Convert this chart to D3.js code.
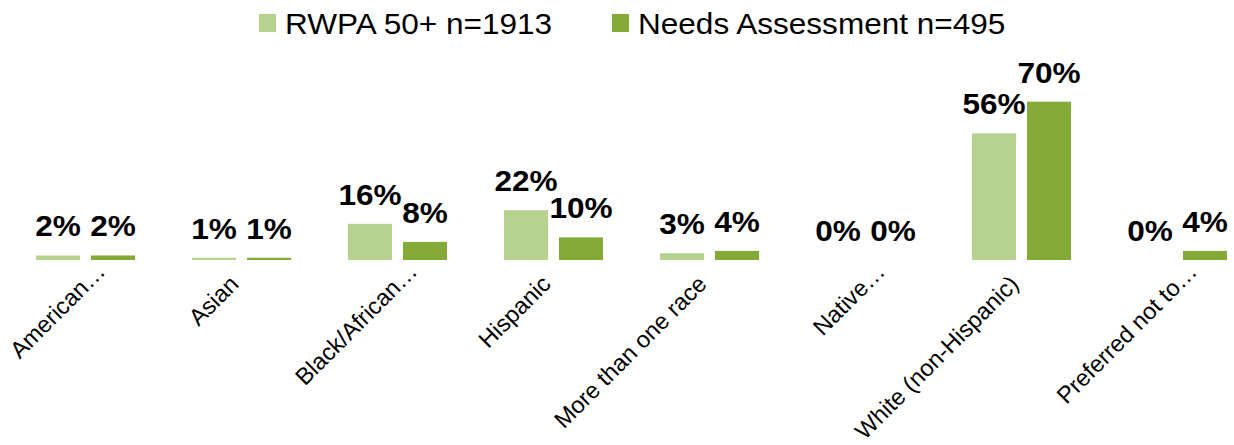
<!DOCTYPE html>
<html>
<head>
<meta charset="utf-8">
<script src="https://cdn.jsdelivr.net/npm/d3@7"></script>
<style>
  html, body { margin: 0; padding: 0; background: #ffffff; }
  svg { display: block; }
  text { font-family: Arial, "Liberation Sans", Helvetica, sans-serif; fill: #000; }
</style>
</head>
<body>
<svg id="chart" width="1234" height="445"></svg>
<script>
const categories = ["American…", "Asian", "Black/African…", "Hispanic", "More than one race", "Native…", "White (non-Hispanic)", "Preferred not to…"];
const seriesNames = ["RWPA 50+ n=1913", "Needs Assessment n=495"];
const rwpaValues = [2, 1, 16, 22, 3, 0, 56, 0];
const needsValues = [2, 1, 8, 10, 4, 0, 70, 4];
const seriesColors = ["#b5d28f", "#84ab37"];

const svg = d3.select("#chart");
const baseY = 260;

const x0 = d3.scaleBand().domain(categories).range([7.5, 1255.5]).padding(0);
const x1 = d3.scaleBand().domain(seriesNames).range([28.5, 127.5]).paddingInner(0.2);
const y = d3.scaleLinear().domain([0, 80]).range([baseY, baseY - 80 * 2.262]);

const rows = categories.map((c, i) => ({
  cat: c,
  vals: [
    { s: seriesNames[0], v: rwpaValues[i], color: seriesColors[0] },
    { s: seriesNames[1], v: needsValues[i], color: seriesColors[1] }
  ]
}));

const groups = svg.append("g").selectAll("g").data(rows).join("g")
  .attr("transform", d => `translate(${x0(d.cat)},0)`);

groups.selectAll("rect").data(d => d.vals).join("rect")
  .attr("x", d => x1(d.s))
  .attr("width", x1.bandwidth())
  .attr("y", d => y(d.v))
  .attr("height", d => y(0) - y(d.v))
  .attr("fill", d => d.color);

groups.selectAll("text.val").data(d => d.vals).join("text")
  .attr("class", "val")
  .attr("text-anchor", "middle")
  .attr("font-weight", "bold")
  .attr("font-size", 29.5)
  .attr("transform", d => `translate(${x1(d.s) + x1.bandwidth() / 2},${y(d.v) - 19}) scale(1.07,1)`)
  .text(d => d.v + "%");

// x axis labels (rotated)
const xAxis = d3.axisBottom(x0).tickSize(0).tickPadding(0);
const axG = svg.append("g").attr("transform", `translate(0,0)`).call(xAxis);
axG.select(".domain").remove();
axG.selectAll(".tick text")
  .attr("font-size", 23.5)
  .attr("font-family", "Arial, 'Liberation Sans', sans-serif")
  .attr("fill", "#000")
  .attr("text-anchor", "end")
  .attr("dy", 0)
  .attr("y", 0)
  .attr("transform", d => d.endsWith("…")
      ? "translate(21,273) rotate(-45)"
      : "translate(-1.5,285.5) rotate(-45)");

// legend
const legendX = [259, 612];
const legend = svg.append("g");
seriesNames.forEach((name, i) => {
  legend.append("rect")
    .attr("x", legendX[i]).attr("y", 14)
    .attr("width", 17).attr("height", 18)
    .attr("fill", seriesColors[i]);
  legend.append("text")
    .attr("font-size", 29.5)
    .attr("transform", `translate(${legendX[i] + 26},34.3) scale(1.07,1)`)
    .text(name);
});
</script>
</body>
</html>
